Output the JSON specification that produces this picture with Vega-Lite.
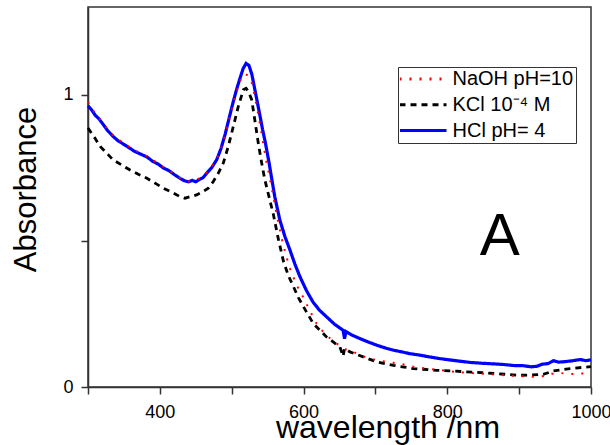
{
  "$schema": "https://vega.github.io/schema/vega-lite/v6.json",
  "width": 503,
  "height": 380,
  "autosize": {"type": "none"},
  "padding": {"left": 88, "top": 7, "right": 19, "bottom": 58},
  "background": "white",
  "config": {
    "font": "Liberation Sans",
    "view": {"stroke": "#333", "strokeWidth": 1.5},
    "axis": {
      "grid": false,
      "domainColor": "#333",
      "domainWidth": 1.5,
      "tickColor": "#333",
      "tickWidth": 1.5,
      "tickSize": 7,
      "labelFont": "Liberation Sans",
      "labelFontSize": 18,
      "labelColor": "#000",
      "labelOverlap": false,
      "labelFlush": false,
      "titleFont": "Liberation Sans",
      "titleFontWeight": "normal",
      "titleColor": "#000"
    },
    "legend": {
      "orient": "none",
      "legendX": 310,
      "legendY": 60,
      "title": null,
      "symbolType": "M-2.35,0H2.35",
      "symbolSize": 400,
      "symbolOffset": 11.5,
      "symbolStrokeWidth": 3,
      "labelFont": "Liberation Sans",
      "labelFontSize": 20,
      "labelColor": "#000",
      "labelOffset": 18,
      "labelLimit": 300,
      "strokeColor": "#333",
      "fillColor": "white",
      "padding": 2,
      "rowPadding": 5.8,
      "clipHeight": 20
    }
  },
  "datasets": {
    "spectra": [
      {"series": "HCl pH= 4", "wavelength": 300, "absorbance": 0.962},
      {"series": "HCl pH= 4", "wavelength": 305, "absorbance": 0.948},
      {"series": "HCl pH= 4", "wavelength": 310, "absorbance": 0.93},
      {"series": "HCl pH= 4", "wavelength": 315, "absorbance": 0.918},
      {"series": "HCl pH= 4", "wavelength": 320, "absorbance": 0.902},
      {"series": "HCl pH= 4", "wavelength": 327, "absorbance": 0.878},
      {"series": "HCl pH= 4", "wavelength": 335, "absorbance": 0.857},
      {"series": "HCl pH= 4", "wavelength": 342, "absorbance": 0.842},
      {"series": "HCl pH= 4", "wavelength": 350, "absorbance": 0.83},
      {"series": "HCl pH= 4", "wavelength": 358, "absorbance": 0.817},
      {"series": "HCl pH= 4", "wavelength": 365, "absorbance": 0.806},
      {"series": "HCl pH= 4", "wavelength": 372, "absorbance": 0.798},
      {"series": "HCl pH= 4", "wavelength": 382, "absorbance": 0.787},
      {"series": "HCl pH= 4", "wavelength": 390, "absorbance": 0.772},
      {"series": "HCl pH= 4", "wavelength": 398, "absorbance": 0.762},
      {"series": "HCl pH= 4", "wavelength": 405, "absorbance": 0.749},
      {"series": "HCl pH= 4", "wavelength": 412, "absorbance": 0.741},
      {"series": "HCl pH= 4", "wavelength": 420, "absorbance": 0.727},
      {"series": "HCl pH= 4", "wavelength": 428, "absorbance": 0.714},
      {"series": "HCl pH= 4", "wavelength": 434, "absorbance": 0.706},
      {"series": "HCl pH= 4", "wavelength": 440, "absorbance": 0.702},
      {"series": "HCl pH= 4", "wavelength": 445, "absorbance": 0.707},
      {"series": "HCl pH= 4", "wavelength": 450, "absorbance": 0.702},
      {"series": "HCl pH= 4", "wavelength": 455, "absorbance": 0.71},
      {"series": "HCl pH= 4", "wavelength": 460, "absorbance": 0.716},
      {"series": "HCl pH= 4", "wavelength": 465, "absorbance": 0.731},
      {"series": "HCl pH= 4", "wavelength": 472, "absorbance": 0.75},
      {"series": "HCl pH= 4", "wavelength": 479, "absorbance": 0.777},
      {"series": "HCl pH= 4", "wavelength": 485, "absorbance": 0.815},
      {"series": "HCl pH= 4", "wavelength": 491, "absorbance": 0.866},
      {"series": "HCl pH= 4", "wavelength": 497, "absorbance": 0.926},
      {"series": "HCl pH= 4", "wavelength": 502, "absorbance": 0.975},
      {"series": "HCl pH= 4", "wavelength": 507, "absorbance": 1.02},
      {"series": "HCl pH= 4", "wavelength": 512, "absorbance": 1.06},
      {"series": "HCl pH= 4", "wavelength": 516, "absorbance": 1.09},
      {"series": "HCl pH= 4", "wavelength": 520, "absorbance": 1.107},
      {"series": "HCl pH= 4", "wavelength": 524, "absorbance": 1.1},
      {"series": "HCl pH= 4", "wavelength": 528, "absorbance": 1.07},
      {"series": "HCl pH= 4", "wavelength": 532, "absorbance": 1.02},
      {"series": "HCl pH= 4", "wavelength": 536, "absorbance": 0.97},
      {"series": "HCl pH= 4", "wavelength": 539.5, "absorbance": 0.926},
      {"series": "HCl pH= 4", "wavelength": 543, "absorbance": 0.88},
      {"series": "HCl pH= 4", "wavelength": 546.5, "absorbance": 0.84},
      {"series": "HCl pH= 4", "wavelength": 552, "absorbance": 0.767},
      {"series": "HCl pH= 4", "wavelength": 556, "absorbance": 0.708},
      {"series": "HCl pH= 4", "wavelength": 560, "absorbance": 0.65},
      {"series": "HCl pH= 4", "wavelength": 567, "absorbance": 0.571},
      {"series": "HCl pH= 4", "wavelength": 574, "absorbance": 0.515},
      {"series": "HCl pH= 4", "wavelength": 581, "absorbance": 0.469},
      {"series": "HCl pH= 4", "wavelength": 588, "absorbance": 0.42},
      {"series": "HCl pH= 4", "wavelength": 595, "absorbance": 0.377},
      {"series": "HCl pH= 4", "wavelength": 604, "absorbance": 0.33},
      {"series": "HCl pH= 4", "wavelength": 613, "absorbance": 0.291},
      {"series": "HCl pH= 4", "wavelength": 622, "absorbance": 0.263},
      {"series": "HCl pH= 4", "wavelength": 632, "absorbance": 0.24},
      {"series": "HCl pH= 4", "wavelength": 643, "absorbance": 0.215},
      {"series": "HCl pH= 4", "wavelength": 655, "absorbance": 0.194},
      {"series": "HCl pH= 4", "wavelength": 657, "absorbance": 0.165},
      {"series": "HCl pH= 4", "wavelength": 659, "absorbance": 0.19},
      {"series": "HCl pH= 4", "wavelength": 667, "absorbance": 0.178},
      {"series": "HCl pH= 4", "wavelength": 678, "absorbance": 0.166},
      {"series": "HCl pH= 4", "wavelength": 690, "absorbance": 0.154},
      {"series": "HCl pH= 4", "wavelength": 702, "absorbance": 0.143},
      {"series": "HCl pH= 4", "wavelength": 713, "absorbance": 0.134},
      {"series": "HCl pH= 4", "wavelength": 725, "absorbance": 0.126},
      {"series": "HCl pH= 4", "wavelength": 737, "absorbance": 0.12},
      {"series": "HCl pH= 4", "wavelength": 748, "absorbance": 0.114},
      {"series": "HCl pH= 4", "wavelength": 762, "absorbance": 0.109},
      {"series": "HCl pH= 4", "wavelength": 775, "absorbance": 0.103},
      {"series": "HCl pH= 4", "wavelength": 790, "absorbance": 0.097},
      {"series": "HCl pH= 4", "wavelength": 799, "absorbance": 0.094},
      {"series": "HCl pH= 4", "wavelength": 815, "absorbance": 0.089},
      {"series": "HCl pH= 4", "wavelength": 832, "absorbance": 0.084},
      {"series": "HCl pH= 4", "wavelength": 850, "absorbance": 0.081},
      {"series": "HCl pH= 4", "wavelength": 865, "absorbance": 0.079},
      {"series": "HCl pH= 4", "wavelength": 878, "absorbance": 0.077},
      {"series": "HCl pH= 4", "wavelength": 895, "absorbance": 0.073},
      {"series": "HCl pH= 4", "wavelength": 905, "absorbance": 0.073},
      {"series": "HCl pH= 4", "wavelength": 917, "absorbance": 0.069},
      {"series": "HCl pH= 4", "wavelength": 925, "absorbance": 0.071},
      {"series": "HCl pH= 4", "wavelength": 932, "absorbance": 0.078},
      {"series": "HCl pH= 4", "wavelength": 940, "absorbance": 0.08},
      {"series": "HCl pH= 4", "wavelength": 948, "absorbance": 0.09},
      {"series": "HCl pH= 4", "wavelength": 955, "absorbance": 0.085},
      {"series": "HCl pH= 4", "wavelength": 965, "absorbance": 0.087},
      {"series": "HCl pH= 4", "wavelength": 975, "absorbance": 0.09},
      {"series": "HCl pH= 4", "wavelength": 985, "absorbance": 0.094},
      {"series": "HCl pH= 4", "wavelength": 993, "absorbance": 0.09},
      {"series": "HCl pH= 4", "wavelength": 1000, "absorbance": 0.093},

      {"series": "NaOH pH=10", "wavelength": 300, "absorbance": 0.975},
      {"series": "NaOH pH=10", "wavelength": 310, "absorbance": 0.935},
      {"series": "NaOH pH=10", "wavelength": 320, "absorbance": 0.905},
      {"series": "NaOH pH=10", "wavelength": 335, "absorbance": 0.86},
      {"series": "NaOH pH=10", "wavelength": 350, "absorbance": 0.833},
      {"series": "NaOH pH=10", "wavelength": 365, "absorbance": 0.81},
      {"series": "NaOH pH=10", "wavelength": 382, "absorbance": 0.79},
      {"series": "NaOH pH=10", "wavelength": 395, "absorbance": 0.768},
      {"series": "NaOH pH=10", "wavelength": 410, "absorbance": 0.745},
      {"series": "NaOH pH=10", "wavelength": 428, "absorbance": 0.715},
      {"series": "NaOH pH=10", "wavelength": 440, "absorbance": 0.703},
      {"series": "NaOH pH=10", "wavelength": 450, "absorbance": 0.708},
      {"series": "NaOH pH=10", "wavelength": 460, "absorbance": 0.72},
      {"series": "NaOH pH=10", "wavelength": 470, "absorbance": 0.745},
      {"series": "NaOH pH=10", "wavelength": 480, "absorbance": 0.785},
      {"series": "NaOH pH=10", "wavelength": 488, "absorbance": 0.835},
      {"series": "NaOH pH=10", "wavelength": 495, "absorbance": 0.9},
      {"series": "NaOH pH=10", "wavelength": 502, "absorbance": 0.97},
      {"series": "NaOH pH=10", "wavelength": 508, "absorbance": 1.02},
      {"series": "NaOH pH=10", "wavelength": 513, "absorbance": 1.055},
      {"series": "NaOH pH=10", "wavelength": 518, "absorbance": 1.072},
      {"series": "NaOH pH=10", "wavelength": 523, "absorbance": 1.065},
      {"series": "NaOH pH=10", "wavelength": 528, "absorbance": 1.04},
      {"series": "NaOH pH=10", "wavelength": 532, "absorbance": 0.995},
      {"series": "NaOH pH=10", "wavelength": 536, "absorbance": 0.945},
      {"series": "NaOH pH=10", "wavelength": 540, "absorbance": 0.89},
      {"series": "NaOH pH=10", "wavelength": 544, "absorbance": 0.83},
      {"series": "NaOH pH=10", "wavelength": 548, "absorbance": 0.775},
      {"series": "NaOH pH=10", "wavelength": 553, "absorbance": 0.715},
      {"series": "NaOH pH=10", "wavelength": 558, "absorbance": 0.65},
      {"series": "NaOH pH=10", "wavelength": 563, "absorbance": 0.585},
      {"series": "NaOH pH=10", "wavelength": 569.5, "absorbance": 0.509},
      {"series": "NaOH pH=10", "wavelength": 575, "absorbance": 0.455},
      {"series": "NaOH pH=10", "wavelength": 581, "absorbance": 0.406},
      {"series": "NaOH pH=10", "wavelength": 590, "absorbance": 0.35},
      {"series": "NaOH pH=10", "wavelength": 600, "absorbance": 0.305},
      {"series": "NaOH pH=10", "wavelength": 610, "absorbance": 0.255},
      {"series": "NaOH pH=10", "wavelength": 618, "absorbance": 0.217},
      {"series": "NaOH pH=10", "wavelength": 630, "absorbance": 0.18},
      {"series": "NaOH pH=10", "wavelength": 646, "absorbance": 0.149},
      {"series": "NaOH pH=10", "wavelength": 657, "absorbance": 0.13},
      {"series": "NaOH pH=10", "wavelength": 669, "absorbance": 0.12},
      {"series": "NaOH pH=10", "wavelength": 685, "absorbance": 0.103},
      {"series": "NaOH pH=10", "wavelength": 702, "absorbance": 0.091},
      {"series": "NaOH pH=10", "wavelength": 718, "absorbance": 0.085},
      {"series": "NaOH pH=10", "wavelength": 734, "absorbance": 0.08},
      {"series": "NaOH pH=10", "wavelength": 752, "absorbance": 0.07},
      {"series": "NaOH pH=10", "wavelength": 771, "absorbance": 0.063},
      {"series": "NaOH pH=10", "wavelength": 790, "absorbance": 0.058},
      {"series": "NaOH pH=10", "wavelength": 810, "absorbance": 0.052},
      {"series": "NaOH pH=10", "wavelength": 830, "absorbance": 0.048},
      {"series": "NaOH pH=10", "wavelength": 855, "absorbance": 0.045},
      {"series": "NaOH pH=10", "wavelength": 880, "absorbance": 0.04},
      {"series": "NaOH pH=10", "wavelength": 901, "absorbance": 0.037},
      {"series": "NaOH pH=10", "wavelength": 920, "absorbance": 0.035},
      {"series": "NaOH pH=10", "wavelength": 933, "absorbance": 0.037},
      {"series": "NaOH pH=10", "wavelength": 945, "absorbance": 0.045},
      {"series": "NaOH pH=10", "wavelength": 957, "absorbance": 0.048},
      {"series": "NaOH pH=10", "wavelength": 970, "absorbance": 0.044},
      {"series": "NaOH pH=10", "wavelength": 985, "absorbance": 0.045},
      {"series": "NaOH pH=10", "wavelength": 996, "absorbance": 0.05},
      {"series": "NaOH pH=10", "wavelength": 1000, "absorbance": 0.052},

      {"series": "KCl 10⁻⁴ M", "wavelength": 300, "absorbance": 0.886},
      {"series": "KCl 10⁻⁴ M", "wavelength": 310, "absorbance": 0.85},
      {"series": "KCl 10⁻⁴ M", "wavelength": 317, "absorbance": 0.823},
      {"series": "KCl 10⁻⁴ M", "wavelength": 328, "absorbance": 0.795},
      {"series": "KCl 10⁻⁴ M", "wavelength": 335, "absorbance": 0.777},
      {"series": "KCl 10⁻⁴ M", "wavelength": 350, "absorbance": 0.755},
      {"series": "KCl 10⁻⁴ M", "wavelength": 358, "absorbance": 0.743},
      {"series": "KCl 10⁻⁴ M", "wavelength": 370, "absorbance": 0.728},
      {"series": "KCl 10⁻⁴ M", "wavelength": 382, "absorbance": 0.714},
      {"series": "KCl 10⁻⁴ M", "wavelength": 395, "absorbance": 0.695},
      {"series": "KCl 10⁻⁴ M", "wavelength": 405, "absorbance": 0.68},
      {"series": "KCl 10⁻⁴ M", "wavelength": 418, "absorbance": 0.665},
      {"series": "KCl 10⁻⁴ M", "wavelength": 428, "absorbance": 0.651},
      {"series": "KCl 10⁻⁴ M", "wavelength": 435, "absorbance": 0.646},
      {"series": "KCl 10⁻⁴ M", "wavelength": 442, "absorbance": 0.651},
      {"series": "KCl 10⁻⁴ M", "wavelength": 451, "absorbance": 0.657},
      {"series": "KCl 10⁻⁴ M", "wavelength": 460.5, "absorbance": 0.669},
      {"series": "KCl 10⁻⁴ M", "wavelength": 467.4, "absorbance": 0.68},
      {"series": "KCl 10⁻⁴ M", "wavelength": 474.4, "absorbance": 0.703},
      {"series": "KCl 10⁻⁴ M", "wavelength": 481.3, "absorbance": 0.731},
      {"series": "KCl 10⁻⁴ M", "wavelength": 488.3, "absorbance": 0.766},
      {"series": "KCl 10⁻⁴ M", "wavelength": 495.2, "absorbance": 0.823},
      {"series": "KCl 10⁻⁴ M", "wavelength": 502.2, "absorbance": 0.891},
      {"series": "KCl 10⁻⁴ M", "wavelength": 509.2, "absorbance": 0.96},
      {"series": "KCl 10⁻⁴ M", "wavelength": 516.2, "absorbance": 1.017},
      {"series": "KCl 10⁻⁴ M", "wavelength": 520, "absorbance": 1.022},
      {"series": "KCl 10⁻⁴ M", "wavelength": 523.2, "absorbance": 1.011},
      {"series": "KCl 10⁻⁴ M", "wavelength": 527.8, "absorbance": 0.983},
      {"series": "KCl 10⁻⁴ M", "wavelength": 532.4, "absorbance": 0.909},
      {"series": "KCl 10⁻⁴ M", "wavelength": 537, "absorbance": 0.834},
      {"series": "KCl 10⁻⁴ M", "wavelength": 541.7, "absorbance": 0.766},
      {"series": "KCl 10⁻⁴ M", "wavelength": 546, "absorbance": 0.71},
      {"series": "KCl 10⁻⁴ M", "wavelength": 550, "absorbance": 0.67},
      {"series": "KCl 10⁻⁴ M", "wavelength": 554, "absorbance": 0.63},
      {"series": "KCl 10⁻⁴ M", "wavelength": 558, "absorbance": 0.59},
      {"series": "KCl 10⁻⁴ M", "wavelength": 565, "absorbance": 0.505},
      {"series": "KCl 10⁻⁴ M", "wavelength": 572, "absorbance": 0.43},
      {"series": "KCl 10⁻⁴ M", "wavelength": 579, "absorbance": 0.38},
      {"series": "KCl 10⁻⁴ M", "wavelength": 586, "absorbance": 0.343},
      {"series": "KCl 10⁻⁴ M", "wavelength": 593, "absorbance": 0.305},
      {"series": "KCl 10⁻⁴ M", "wavelength": 600, "absorbance": 0.274},
      {"series": "KCl 10⁻⁴ M", "wavelength": 613.5, "absorbance": 0.217},
      {"series": "KCl 10⁻⁴ M", "wavelength": 632, "absorbance": 0.171},
      {"series": "KCl 10⁻⁴ M", "wavelength": 650.6, "absorbance": 0.137},
      {"series": "KCl 10⁻⁴ M", "wavelength": 655, "absorbance": 0.105},
      {"series": "KCl 10⁻⁴ M", "wavelength": 657, "absorbance": 0.132},
      {"series": "KCl 10⁻⁴ M", "wavelength": 664.6, "absorbance": 0.12},
      {"series": "KCl 10⁻⁴ M", "wavelength": 683, "absorbance": 0.103},
      {"series": "KCl 10⁻⁴ M", "wavelength": 701.7, "absorbance": 0.086},
      {"series": "KCl 10⁻⁴ M", "wavelength": 724.9, "absorbance": 0.074},
      {"series": "KCl 10⁻⁴ M", "wavelength": 752.7, "absorbance": 0.063},
      {"series": "KCl 10⁻⁴ M", "wavelength": 785.2, "absorbance": 0.057},
      {"series": "KCl 10⁻⁴ M", "wavelength": 820, "absorbance": 0.053},
      {"series": "KCl 10⁻⁴ M", "wavelength": 855, "absorbance": 0.048},
      {"series": "KCl 10⁻⁴ M", "wavelength": 901, "absorbance": 0.04},
      {"series": "KCl 10⁻⁴ M", "wavelength": 933.6, "absorbance": 0.043},
      {"series": "KCl 10⁻⁴ M", "wavelength": 947.5, "absorbance": 0.055},
      {"series": "KCl 10⁻⁴ M", "wavelength": 970.8, "absorbance": 0.063},
      {"series": "KCl 10⁻⁴ M", "wavelength": 996.3, "absorbance": 0.069},
      {"series": "KCl 10⁻⁴ M", "wavelength": 1000, "absorbance": 0.07}
    ],
    "annot": [
      {"label": "A", "wavelength": 873, "absorbance": 0.452}
    ]
  },
  "layer": [
    {
      "data": {"name": "spectra"},
      "encoding": {
        "x": {
          "field": "wavelength",
          "type": "quantitative",
          "scale": {"domain": [300, 1000], "nice": false, "zero": false},
          "axis": {
            "title": "wavelength /nm",
            "values": [300, 400, 500, 600, 700, 800, 900, 1000],
            "labelExpr": "(datum.value % 200 == 0 && datum.value > 300) ? format(datum.value, 'd') : ''",
            "labelPadding": 9,
            "titleFontSize": 32,
            "titleX": 299.5,
            "titleY": 50,
            "titleBaseline": "alphabetic",
            "titleAlign": "center"
          }
        },
        "y": {
          "field": "absorbance",
          "type": "quantitative",
          "scale": {"domain": [0, 1.3], "nice": false},
          "axis": {
            "title": "Absorbance",
            "values": [0, 0.5, 1],
            "labelExpr": "datum.value == 0 ? '0' : (datum.value == 1 ? '1' : '')",
            "labelPadding": 8,
            "titleFontSize": 31,
            "titleX": -53,
            "titleY": 182,
            "titleAngle": 270,
            "titleBaseline": "alphabetic",
            "titleAlign": "center"
          }
        },
        "color": {
          "field": "series",
          "type": "nominal",
          "scale": {
            "domain": ["NaOH pH=10", "KCl 10⁻⁴ M", "HCl pH= 4"],
            "range": ["#ff0000", "#000000", "#0000ff"]
          }
        },
        "strokeDash": {
          "field": "series",
          "type": "nominal",
          "scale": {
            "domain": ["NaOH pH=10", "KCl 10⁻⁴ M", "HCl pH= 4"],
            "range": [[2, 8], [6, 5], [1, 0]]
          }
        }
      },
      "layer": [
        {
          "transform": [{"filter": "datum.series === 'KCl 10⁻⁴ M'"}],
          "mark": {"type": "line", "strokeWidth": 2.8}
        },
        {
          "transform": [{"filter": "datum.series === 'HCl pH= 4'"}],
          "mark": {"type": "line", "strokeWidth": 3.2}
        },
        {
          "transform": [{"filter": "datum.series === 'NaOH pH=10'"}],
          "mark": {"type": "line", "strokeWidth": 2}
        }
      ]
    },
    {
      "data": {"name": "annot"},
      "mark": {"type": "text", "fontSize": 60, "font": "Liberation Sans", "align": "center", "baseline": "alphabetic", "color": "#000"},
      "encoding": {
        "x": {"field": "wavelength", "type": "quantitative", "title": "wavelength /nm"},
        "y": {"field": "absorbance", "type": "quantitative", "title": "Absorbance"},
        "text": {"field": "label"}
      }
    }
  ]
}
